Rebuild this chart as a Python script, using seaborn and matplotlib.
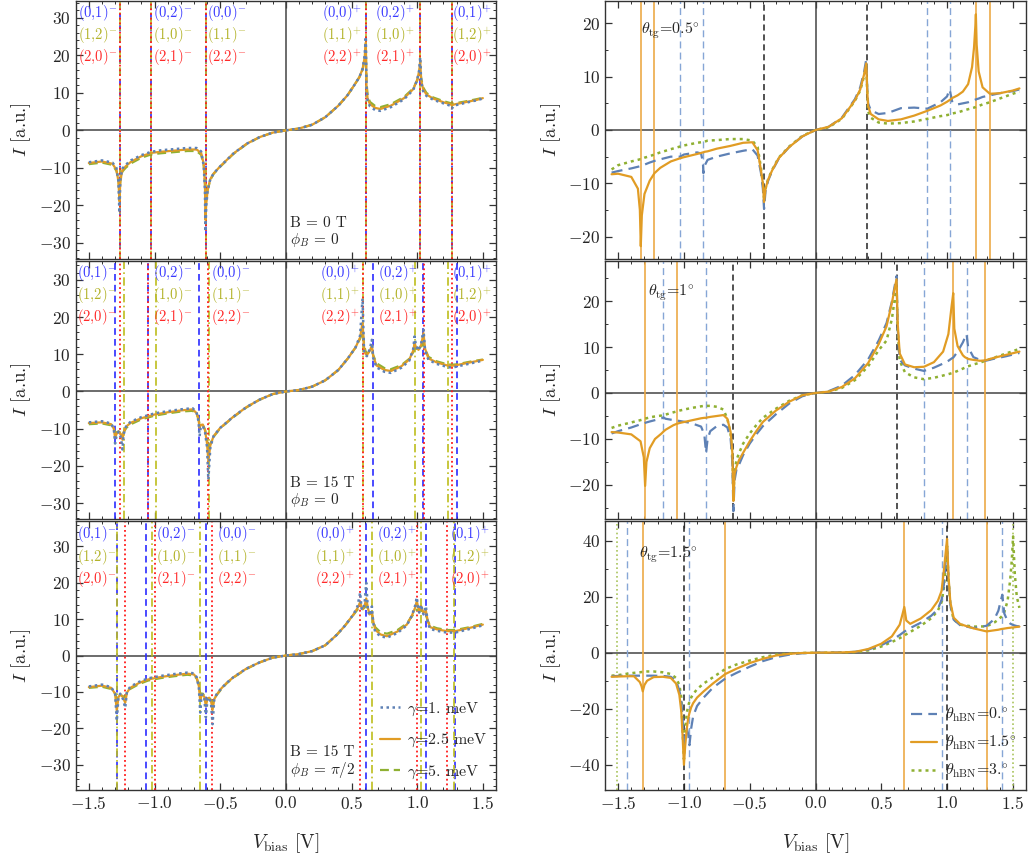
import numpy as np
import pandas as pd
import seaborn as sns
import matplotlib
matplotlib.use("Agg")
import matplotlib.pyplot as plt
import matplotlib.transforms as mtransforms
from matplotlib.ticker import MultipleLocator, FixedLocator, FuncFormatter
from matplotlib.lines import Line2D

sns.set_style("ticks")
plt.rcParams['font.family'] = 'serif'
plt.rcParams['font.serif'] = ['cmr10']
plt.rcParams['mathtext.fontset'] = 'cm'
plt.rcParams['axes.formatter.use_mathtext'] = True
plt.rcParams['axes.unicode_minus'] = True

# ---------------- data: left column (gamma series) ----------------
LT_V = [-1.5, -1.4, -1.32, -1.29, -1.275, -1.267, -1.26, -1.245, -1.22, -1.18,
        -1.1, -1.025, -0.95, -0.85, -0.75, -0.68, -0.645, -0.625, -0.616, -0.612,
        -0.606, -0.595, -0.575, -0.55, -0.5, -0.45, -0.4, -0.3, -0.2, -0.1,
        0.0, 0.1, 0.2, 0.3, 0.4, 0.47, 0.52, 0.56, 0.585, 0.6,
        0.609, 0.614, 0.622, 0.64, 0.68, 0.72, 0.8, 0.9, 0.97, 1.0,
        1.015, 1.023, 1.03, 1.045, 1.07, 1.12, 1.2, 1.25, 1.264, 1.28,
        1.35, 1.45, 1.5]
LT_g1 = [-8.5, -8.0, -8.6, -10.0, -13.5, -22.0, -13.0, -10.2, -9.2, -8.0,
         -6.6, -5.7, -5.3, -5.0, -4.7, -4.7, -5.6, -9.5, -16.0, -27.0,
         -20.0, -16.0, -13.0, -11.5, -9.6, -7.9, -6.2, -3.6, -1.8, -0.6,
         0.0, 0.5, 1.5, 3.5, 6.6, 9.4, 12.0, 14.2, 16.5, 20.0,
         25.0, 11.5, 8.0, 6.4, 5.4, 5.2, 6.2, 8.3, 10.8, 13.5,
         16.0, 19.5, 13.0, 10.5, 9.2, 8.2, 7.2, 6.6, 5.8, 6.6,
         7.2, 8.0, 8.5]
LT_g25 = [-8.7, -8.3, -8.9, -10.5, -13.5, -18.9, -13.5, -10.6, -9.6, -8.4,
          -6.9, -6.0, -5.7, -5.4, -5.1, -5.1, -6.0, -9.0, -14.5, -23.9,
          -19.5, -15.8, -13.0, -11.5, -9.6, -7.9, -6.2, -3.6, -1.8, -0.6,
          0.0, 0.5, 1.5, 3.5, 6.6, 9.4, 12.0, 14.2, 16.5, 19.5,
          23.4, 12.0, 8.6, 7.0, 6.0, 5.7, 6.6, 8.6, 11.0, 13.5,
          15.8, 18.5, 13.5, 11.0, 9.6, 8.5, 7.5, 7.0, 6.7, 6.9,
          7.4, 8.1, 8.6]
LT_g5 = [-9.0, -8.6, -9.2, -10.8, -13.0, -16.0, -13.5, -11.0, -10.0, -8.8,
         -7.3, -6.4, -6.1, -5.8, -5.5, -5.5, -6.5, -9.5, -14.0, -20.0,
         -18.5, -15.8, -13.2, -11.6, -9.7, -8.0, -6.3, -3.7, -1.8, -0.6,
         0.0, 0.5, 1.5, 3.5, 6.6, 9.4, 12.0, 14.2, 16.2, 19.0,
         21.0, 13.0, 9.5, 7.6, 6.5, 6.2, 7.0, 8.9, 11.2, 13.3,
         15.0, 17.0, 14.0, 11.5, 10.0, 8.8, 7.8, 7.3, 7.1, 7.2,
         7.6, 8.3, 8.7]

LM_V = [-1.5, -1.4, -1.33, -1.31, -1.30, -1.29, -1.274, -1.255, -1.244, -1.235,
        -1.215, -1.18, -1.1, -1.0, -0.9, -0.8, -0.71, -0.68, -0.665, -0.657,
        -0.648, -0.632, -0.615, -0.60, -0.59, -0.575, -0.55, -0.5, -0.4, -0.3,
        -0.2, -0.1, 0.0, 0.1, 0.2, 0.3, 0.4, 0.47, 0.53, 0.565,
        0.584, 0.595, 0.605, 0.617, 0.64, 0.655, 0.665, 0.69, 0.75, 0.8,
        0.88, 0.94, 0.97, 0.98, 0.99, 1.01, 1.03, 1.048, 1.06, 1.086,
        1.15, 1.23, 1.264, 1.3, 1.4, 1.5]
LM_g1 = [-8.3, -8.0, -8.6, -10.0, -14.0, -12.0, -10.8, -12.5, -15.6, -11.5,
         -9.2, -8.1, -6.9, -5.9, -5.3, -4.8, -4.5, -5.6, -8.0, -12.0,
         -9.8, -9.2, -11.0, -15.0, -23.7, -15.0, -12.0, -9.8, -6.8, -4.2,
         -2.2, -0.7, 0.0, 0.4, 1.3, 3.0, 5.8, 8.8, 11.8, 15.0,
         25.0, 11.0, 9.8, 9.5, 11.5, 13.9, 9.0, 6.5, 5.3, 5.0,
         6.4, 8.3, 11.5, 14.8, 12.5, 11.0, 12.8, 16.6, 11.0, 8.5,
         7.4, 6.6, 6.4, 6.7, 7.5, 8.3]
LM_g25 = [-8.5, -8.3, -8.8, -10.0, -12.5, -11.5, -10.7, -11.5, -13.0, -11.0,
          -9.4, -8.4, -7.2, -6.2, -5.6, -5.1, -4.8, -5.8, -7.5, -9.8,
          -9.0, -8.9, -10.5, -14.0, -18.8, -14.5, -12.0, -9.8, -6.8, -4.2,
          -2.2, -0.7, 0.0, 0.4, 1.3, 3.0, 5.8, 8.8, 11.8, 14.5,
          18.5, 12.0, 10.2, 9.8, 11.0, 12.4, 9.5, 7.0, 5.8, 5.5,
          6.8, 8.6, 11.0, 13.0, 12.0, 11.2, 12.5, 15.7, 11.5, 8.9,
          7.8, 7.0, 6.9, 7.1, 7.8, 8.5]
LM_g5 = [-8.8, -8.6, -9.1, -10.2, -11.0, -11.0, -10.8, -11.2, -11.8, -11.0,
         -9.8, -8.8, -7.5, -6.5, -5.9, -5.4, -5.2, -6.0, -7.3, -8.8,
         -8.9, -9.0, -10.3, -13.0, -16.0, -14.0, -12.2, -9.9, -6.9, -4.3,
         -2.2, -0.7, 0.0, 0.4, 1.3, 3.0, 5.8, 8.8, 11.8, 14.2,
         16.0, 13.0, 11.0, 10.2, 10.8, 11.2, 9.8, 7.6, 6.3, 6.0,
         7.1, 8.8, 10.6, 11.5, 11.6, 11.3, 12.0, 13.0, 11.5, 9.3,
         8.1, 7.3, 7.2, 7.3, 8.0, 8.6]

LB_V = [-1.5, -1.4, -1.33, -1.3, -1.287, -1.275, -1.261, -1.24, -1.223, -1.21,
        -1.185, -1.12, -1.05, -0.95, -0.85, -0.75, -0.7, -0.678, -0.662, -0.652,
        -0.642, -0.632, -0.62, -0.609, -0.597, -0.584, -0.57, -0.558, -0.545, -0.525,
        -0.49, -0.449, -0.4, -0.3, -0.2, -0.1, 0.0, 0.1, 0.2, 0.3,
        0.388, 0.45, 0.515, 0.545, 0.566, 0.576, 0.586, 0.6, 0.612, 0.625,
        0.637, 0.647, 0.655, 0.665, 0.68, 0.72, 0.77, 0.85, 0.921, 0.96,
        0.985, 0.997, 1.006, 1.015, 1.023, 1.03, 1.04, 1.048, 1.057, 1.066,
        1.08, 1.099, 1.15, 1.226, 1.29, 1.4, 1.5]
LB_g1 = [-8.5, -8.0, -8.7, -10.5, -18.0, -11.5, -10.5, -12.0, -14.4, -10.0,
         -8.6, -7.3, -6.3, -5.6, -5.1, -4.7, -4.9, -6.0, -9.0, -15.7,
         -11.0, -10.7, -12.0, -17.0, -12.0, -11.5, -13.0, -18.9, -12.0, -10.5,
         -9.0, -7.5, -6.0, -3.6, -1.9, -0.6, 0.0, 0.4, 1.2, 2.8,
         5.7, 8.2, 11.3, 13.5, 17.3, 13.0, 12.5, 14.5, 20.0, 12.5,
         11.0, 12.0, 13.5, 9.0, 6.5, 5.3, 4.9, 6.2, 8.3, 11.0,
         13.8, 16.0, 13.5, 11.8, 13.0, 14.0, 12.3, 11.3, 12.0, 13.6,
         9.0, 7.3, 6.8, 6.3, 6.3, 7.3, 8.3]
LB_g25 = [-8.7, -8.3, -8.9, -10.5, -15.3, -11.5, -10.7, -11.5, -13.0, -10.2,
          -8.9, -7.6, -6.6, -5.9, -5.4, -5.0, -5.2, -6.2, -8.5, -12.5,
          -11.0, -10.7, -11.5, -13.9, -12.0, -11.6, -12.5, -15.0, -12.0, -10.7,
          -9.0, -7.5, -6.0, -3.6, -1.9, -0.6, 0.0, 0.4, 1.2, 2.8,
          5.7, 8.2, 11.3, 13.0, 14.7, 13.4, 12.7, 13.8, 15.7, 13.0,
          11.3, 11.5, 12.0, 9.5, 7.1, 5.8, 5.3, 6.6, 8.5, 11.0,
          13.2, 15.0, 13.5, 12.2, 12.8, 13.6, 12.5, 11.8, 12.0, 12.4,
          9.5, 7.8, 7.2, 6.7, 6.7, 7.6, 8.5]
LB_g5 = [-8.9, -8.6, -9.2, -10.5, -12.0, -11.0, -10.8, -11.2, -11.5, -10.3,
         -9.2, -7.9, -6.9, -6.2, -5.7, -5.3, -5.5, -6.4, -8.0, -10.5,
         -10.5, -10.5, -11.2, -12.0, -11.8, -11.7, -12.2, -12.8, -11.8, -10.8,
         -9.2, -7.6, -6.1, -3.7, -1.9, -0.6, 0.0, 0.4, 1.2, 2.8,
         5.7, 8.2, 11.2, 12.6, 13.3, 13.0, 12.8, 13.2, 13.8, 12.8,
         11.8, 11.6, 11.4, 9.8, 7.8, 6.4, 6.0, 7.0, 8.8, 10.8,
         12.0, 12.6, 12.5, 12.3, 12.4, 12.5, 12.2, 11.8, 11.6, 11.2,
         9.6, 8.2, 7.5, 7.0, 7.0, 7.8, 8.7]

# transition voltages (left column)
LT_blue = [-1.265, -1.025, -0.61, 0.61, 1.025, 1.265]
LT_olive = [-1.265, -1.025, -0.61, 0.61, 1.025, 1.265]
LT_red = [-1.265, -1.025, -0.61, 0.61, 1.025, 1.265]
LM_blue = [-1.30, -1.048, -0.662, 0.662, 1.048, 1.30]
LM_olive = [-1.233, -0.985, -0.586, 0.586, 0.985, 1.233]
LM_red = [-1.264, -1.053, -0.589, 0.589, 1.053, 1.264]
LB_blue = [-1.285, -1.066, -0.61, 0.61, 1.066, 1.29]
LB_olive = [-1.287, -1.022, -0.653, 0.655, 1.028, 1.284]
LB_red = [-1.224, -0.996, -0.564, 0.566, 0.997, 1.226]

LAB_BLUE = ["(0,1)", "(0,2)", "(0,0)", "(0,0)", "(0,2)", "(0,1)"]
LAB_OLIVE = ["(1,2)", "(1,0)", "(1,1)", "(1,1)", "(1,0)", "(1,2)"]
LAB_RED = ["(2,0)", "(2,1)", "(2,2)", "(2,2)", "(2,1)", "(2,0)"]
LAB_SIGN = ["-", "-", "-", "+", "+", "+"]

# ---------------- data: right column (theta_hBN series) ----------------
RT_V = [-1.55, -1.5, -1.4, -1.35, -1.335, -1.328, -1.32, -1.3, -1.26, -1.224,
        -1.18, -1.1, -1.029, -1.0, -0.9, -0.87, -0.856, -0.852, -0.845, -0.82,
        -0.75, -0.65, -0.55, -0.48, -0.44, -0.415, -0.40, -0.391, -0.38, -0.36,
        -0.33, -0.28, -0.2, -0.1, 0.0, 0.1, 0.2, 0.26, 0.3, 0.34,
        0.37, 0.386, 0.392, 0.40, 0.42, 0.48, 0.55, 0.65, 0.75, 0.85,
        0.95, 1.0, 1.018, 1.025, 1.04, 1.08, 1.12, 1.16, 1.19, 1.205,
        1.215, 1.219, 1.225, 1.24, 1.27, 1.325, 1.4, 1.5, 1.55]
RT_t0 = [-8.0, -7.7, -7.2, -6.9, -6.8, -6.8, -6.7, -6.5, -6.1, -5.8,
         -5.5, -5.0, -5.0, -4.6, -4.2, -4.4, -6.0, -8.1, -6.8, -5.6,
         -5.0, -4.4, -3.9, -3.6, -4.8, -8.0, -11.0, -14.8, -11.5, -9.5,
         -7.7, -5.4, -3.2, -1.2, 0.0, 0.6, 2.3, 4.4, 5.8, 8.0,
         11.0, 13.3, 8.5, 5.0, 3.7, 3.0, 3.2, 4.1, 4.2, 4.0,
         5.2, 6.3, 7.6, 7.0, 5.2, 4.8, 5.0, 5.2, 5.5, 5.6,
         5.7, 5.7, 5.8, 5.9, 6.2, 6.5, 6.9, 7.3, 7.6]
RT_t15 = [-8.3, -8.2, -8.8, -11.0, -15.0, -21.8, -16.0, -12.0, -9.5, -8.1,
          -7.1, -5.9, -5.3, -5.1, -4.5, -4.3, -4.2, -4.2, -4.1, -4.0,
          -3.5, -3.0, -2.4, -2.3, -3.8, -7.5, -10.0, -13.5, -11.0, -9.3,
          -7.6, -5.3, -3.2, -1.2, 0.0, 0.6, 2.2, 4.2, 5.6, 7.6,
          10.5, 12.5, 8.0, 4.5, 3.0, 2.0, 1.7, 2.0, 2.7, 3.6,
          4.6, 5.3, 5.6, 5.7, 6.0, 6.5, 7.2, 8.6, 11.8, 15.5,
          19.5, 21.7, 16.0, 11.0, 8.0, 6.8, 6.9, 7.4, 7.8]
RT_t3 = [-7.4, -6.6, -5.9, -5.6, -5.5, -5.5, -5.4, -5.2, -4.9, -4.6,
         -4.2, -3.6, -3.1, -2.9, -2.4, -2.3, -2.2, -2.2, -2.2, -2.0,
         -1.9, -1.7, -1.7, -2.0, -3.2, -7.0, -10.0, -13.0, -11.0, -9.2,
         -7.5, -5.2, -3.1, -1.1, 0.0, 0.5, 2.1, 4.1, 5.5, 7.4,
         10.2, 12.2, 8.0, 3.5, 2.3, 1.4, 1.2, 1.3, 1.6, 2.1,
         2.6, 2.8, 2.9, 3.0, 3.1, 3.3, 3.6, 3.9, 4.1, 4.2,
         4.3, 4.3, 4.4, 4.5, 4.8, 5.2, 5.9, 6.8, 7.2]

RM_V = [-1.55, -1.5, -1.4, -1.33, -1.305, -1.295, -1.285, -1.26, -1.22, -1.17,
        -1.156, -1.14, -1.08, -1.054, -1.03, -0.95, -0.87, -0.845, -0.832, -0.82,
        -0.8, -0.75, -0.7, -0.67, -0.645, -0.632, -0.624, -0.615, -0.6, -0.58,
        -0.55, -0.5, -0.45, -0.4, -0.3, -0.2, -0.1, 0.0, 0.1, 0.2,
        0.3, 0.4, 0.48, 0.54, 0.58, 0.6, 0.616, 0.625, 0.64, 0.68,
        0.75, 0.824, 0.9, 0.97, 1.01, 1.035, 1.047, 1.055, 1.08, 1.12,
        1.135, 1.148, 1.16, 1.2, 1.25, 1.292, 1.35, 1.45, 1.55]
RM_t0 = [-8.8, -8.3, -7.5, -6.8, -6.6, -6.5, -6.4, -6.2, -5.9, -5.5,
         -5.3, -5.6, -5.9, -6.0, -6.1, -6.5, -7.3, -9.0, -13.0, -10.0,
         -8.3, -7.2, -6.9, -7.5, -10.0, -15.0, -25.7, -19.0, -16.5, -15.5,
         -13.5, -11.0, -9.0, -7.2, -4.6, -2.3, -0.7, 0.0, 0.4, 1.6,
         3.9, 7.3, 11.4, 15.2, 19.8, 23.0, 25.4, 14.0, 7.2, 6.0,
         5.3, 4.8, 5.5, 6.4, 7.0, 7.5, 7.7, 8.0, 9.0, 11.0,
         12.0, 12.8, 10.0, 7.8, 7.2, 7.0, 7.4, 8.0, 8.7]
RM_t15 = [-8.5, -8.6, -9.0, -10.5, -14.0, -20.2, -15.0, -12.0, -10.0, -8.8,
          -8.4, -8.0, -7.0, -6.7, -6.5, -6.0, -5.5, -5.4, -5.4, -5.3,
          -5.2, -5.0, -4.8, -5.6, -8.5, -13.0, -23.5, -17.5, -16.0, -14.5,
          -13.0, -10.5, -8.3, -6.3, -3.8, -1.9, -0.5, 0.0, 0.3, 1.3,
          3.2, 6.5, 10.6, 14.5, 19.5, 22.5, 24.7, 15.0, 8.6, 6.2,
          5.6, 5.7, 6.7, 9.0, 12.8, 19.0, 21.7, 14.0, 10.2, 8.2,
          7.8, 7.6, 7.4, 7.2, 7.0, 7.1, 7.6, 8.3, 9.0]
RM_t3 = [-7.6, -7.1, -6.4, -5.9, -5.7, -5.6, -5.5, -5.3, -5.1, -4.9,
         -4.8, -4.7, -4.2, -4.0, -3.8, -3.3, -2.9, -2.8, -2.8, -2.8,
         -2.8, -3.0, -3.6, -5.6, -9.0, -13.0, -22.0, -17.0, -14.5, -13.0,
         -11.0, -8.8, -7.0, -5.4, -3.4, -1.7, -0.5, 0.0, 0.3, 1.1,
         2.8, 5.8, 9.3, 11.4, 16.0, 20.0, 22.9, 13.0, 7.0, 4.5,
         3.4, 3.0, 3.3, 3.8, 4.1, 4.3, 4.4, 4.5, 4.8, 5.3,
         5.5, 5.7, 5.8, 6.2, 6.6, 7.0, 7.6, 8.6, 9.6]

RB_V = [-1.55, -1.5, -1.429, -1.38, -1.335, -1.322, -1.313, -1.3, -1.28, -1.23,
        -1.16, -1.1, -1.06, -1.035, -1.02, -1.01, -1.0, -0.99, -0.978, -0.968,
        -0.958, -0.945, -0.93, -0.9, -0.85, -0.78, -0.685, -0.6, -0.5, -0.4,
        -0.3, -0.2, -0.1, 0.0, 0.1, 0.2, 0.3, 0.4, 0.5, 0.58,
        0.64, 0.66, 0.675, 0.69, 0.72, 0.8, 0.88, 0.93, 0.958, 0.975,
        0.99, 1.0, 1.01, 1.025, 1.05, 1.1, 1.2, 1.3, 1.36, 1.39,
        1.408, 1.42, 1.435, 1.46, 1.48, 1.492, 1.502, 1.515, 1.53, 1.55]
RB_t0 = [-8.4, -8.3, -8.2, -8.2, -8.2, -8.2, -8.2, -8.2, -8.2, -8.2,
         -8.3, -8.6, -10.0, -13.5, -17.0, -24.0, -34.6, -30.0, -27.0, -29.0,
         -33.0, -27.0, -22.7, -19.0, -16.0, -12.5, -9.2, -7.2, -5.0, -3.0,
         -1.6, -0.7, -0.2, 0.0, 0.05, 0.1, 0.3, 1.1, 2.7, 4.5,
         6.3, 7.0, 7.5, 8.0, 8.8, 10.7, 13.2, 15.5, 18.9, 24.0,
         33.0, 39.0, 27.0, 17.0, 11.8, 9.8, 8.8, 9.6, 12.0, 15.0,
         18.5, 20.7, 14.0, 11.3, 10.4, 10.1, 9.9, 9.7, 9.5, 9.4]
RB_t15 = [-8.6, -8.5, -8.4, -8.4, -10.5, -12.0, -13.8, -11.5, -10.0, -8.7,
          -8.6, -9.0, -11.0, -15.0, -21.0, -30.0, -40.0, -33.0, -27.0, -23.5,
          -21.5, -19.5, -18.0, -16.0, -13.8, -11.0, -7.6, -5.7, -3.7, -2.2,
          -1.0, -0.4, -0.1, 0.0, 0.05, 0.1, 0.3, 1.3, 3.2, 5.8,
          10.0, 13.5, 16.3, 11.5, 10.3, 12.2, 15.2, 18.5, 22.0, 29.0,
          36.0, 40.6, 28.0, 18.0, 12.5, 10.2, 8.7, 7.6, 8.0, 8.2,
          8.4, 8.5, 8.6, 8.8, 8.9, 9.0, 9.0, 9.1, 9.2, 9.3]
RB_t3 = [-8.2, -8.0, -7.5, -7.2, -7.0, -6.9, -6.9, -6.8, -6.7, -6.7,
         -7.0, -7.6, -9.0, -11.5, -16.0, -28.0, -38.0, -27.0, -21.5, -19.0,
         -17.5, -16.0, -14.8, -13.0, -11.0, -8.8, -5.8, -4.2, -2.8, -1.6,
         -0.7, -0.3, -0.1, 0.0, 0.05, 0.1, 0.2, 0.8, 2.2, 3.8,
         5.2, 5.7, 6.1, 6.6, 7.4, 9.6, 12.3, 15.0, 18.0, 23.0,
         31.0, 38.0, 27.0, 17.0, 11.8, 10.0, 9.3, 9.4, 10.8, 11.8,
         12.6, 13.2, 14.5, 18.5, 26.0, 33.0, 41.5, 28.0, 20.0, 16.0]

# resonance markers (right column)
RT_black = [-0.391, 0.388]
RT_blue = [-1.029, -0.852, 0.844, 1.022]
RT_orange = [-1.328, -1.224, 1.219, 1.325]
RT_green = []
RM_black = [-0.624, 0.616]
RM_blue = [-1.156, -0.832, 0.824, 1.148]
RM_orange = [-1.295, -1.054, 1.047, 1.292]
RM_green = []
RB_black = [-1.0, 1.0]
RB_blue = [-1.429, -0.958, 0.958, 1.42]
RB_orange = [-1.313, -0.685, 0.675, 1.30]
RB_green = [-1.506, 1.502]

# ---------------- styling ----------------
C_BLUE = '#5e81b5'
C_ORANGE = '#e19c24'
C_GREEN = '#8fb032'
VL_BLUE = '#2b2bff'
VL_OLIVE = '#bdbd1c'
VL_RED = '#ff1a1a'
TXT_BLUE = '#3a3aff'
TXT_OLIVE = '#b3b32a'
TXT_RED = '#ff2a2a'
FRAME = '#333333'

W, H = 1031, 860
fig = plt.figure(figsize=(W / 100, H / 100), dpi=100)


def add_ax(x0px, x1px, y0px, y1px):
    return fig.add_axes([x0px / W, 1 - y1px / H, (x1px - x0px) / W, (y1px - y0px) / H])


rows = [(1, 259), (261, 519), (521, 790)]
left_axes = [add_ax(75.7, 496, r[0], r[1]) for r in rows]
right_axes = [add_ax(605, 1026, r[0], r[1]) for r in rows]

tickfmt_x = FuncFormatter(lambda v, p: r"$%.1f$" % v)
tickfmt_y = FuncFormatter(lambda v, p: r"$%d$" % int(round(v)))


def style_axes(ax, ylim, yticks, yminor, show_x):
    ax.set_xlim(-1.6, 1.6)
    ax.set_ylim(*ylim)
    ax.xaxis.set_major_locator(FixedLocator([-1.5, -1.0, -0.5, 0.0, 0.5, 1.0, 1.5]))
    ax.xaxis.set_minor_locator(MultipleLocator(0.1))
    ax.yaxis.set_major_locator(FixedLocator(yticks))
    ax.yaxis.set_minor_locator(MultipleLocator(yminor))
    ax.xaxis.set_major_formatter(tickfmt_x)
    ax.yaxis.set_major_formatter(tickfmt_y)
    ax.tick_params(which='both', direction='in', top=True, right=True,
                   color=FRAME, labelsize=12.5)
    ax.tick_params(which='major', length=5, width=0.9)
    ax.tick_params(which='minor', length=2.5, width=0.7)
    if not show_x:
        ax.tick_params(labelbottom=False)
    for s in ax.spines.values():
        s.set_color(FRAME)
        s.set_linewidth(1.0)
        s.set_visible(True)
    ax.axhline(0, color='#444444', lw=1.1, zorder=1)
    ax.axvline(0, color='#444444', lw=1.1, zorder=1)
    ax.set_ylabel(r"$I$ [a.u.]", fontsize=13.5, labelpad=4)
    ax.set_xlabel("")


def draw_curve(ax, V, I, color, ls, lw, label=None):
    df = pd.DataFrame({"V": V, "I": I})
    sns.lineplot(data=df, x="V", y="I", ax=ax, color=color, linestyle=ls, lw=lw,
                 estimator=None, sort=False, label=label, legend=False, zorder=3)


LS_DOT_L = (0, (1.0, 1.4))
LS_DASH_L = (0, (4.0, 2.2))
LS_DASH_R = (0, (5.0, 2.8))
LS_DOT_R = (0, (1.2, 1.6))

left_data = [
    (LT_V, LT_g1, LT_g25, LT_g5, LT_blue, LT_olive, LT_red, (-34.3, 34.5),
     [-1.43, -0.86, -0.45, 0.43, 0.83, 1.42], ("B = 0 T", r"$\phi_B$ = 0")),
    (LM_V, LM_g1, LM_g25, LM_g5, LM_blue, LM_olive, LM_red, (-34.3, 35.1),
     [-1.44, -0.86, -0.42, 0.41, 0.85, 1.42], ("B = 15 T", r"$\phi_B$ = 0")),
    (LB_V, LB_g1, LB_g25, LB_g5, LB_blue, LB_olive, LB_red, (-37.0, 37.0),
     [-1.44, -0.84, -0.37, 0.375, 0.845, 1.40], ("B = 15 T", r"$\phi_B$ = $\pi/2$")),
]

for i, (ax, d) in enumerate(zip(left_axes, left_data)):
    V, g1, g25, g5, vb, vo, vr, ylim, labx, info = d
    style_axes(ax, ylim, [-30, -20, -10, 0, 10, 20, 30], 2, i == 2)
    for x in vb:
        ax.axvline(x, color=VL_BLUE, ls=(0, (4, 2.5)), lw=1.2, zorder=2)
    for x in vo:
        ax.axvline(x, color=VL_OLIVE, ls=(0, (5, 2, 1, 2)), lw=1.2, zorder=2)
    for x in vr:
        ax.axvline(x, color=VL_RED, ls=(0, (1, 1.6)), lw=1.3, zorder=2)
    draw_curve(ax, V, g5, C_GREEN, LS_DASH_L, 1.6, r"$\gamma$=5. meV")
    draw_curve(ax, V, g25, C_ORANGE, '-', 1.6, r"$\gamma$=2.5 meV")
    draw_curve(ax, V, g1, C_BLUE, LS_DOT_L, 1.8, r"$\gamma$=1. meV")
    tr = mtransforms.blended_transform_factory(ax.transData, ax.transAxes)
    for k in range(6):
        sgn = r"$^{-}$" if LAB_SIGN[k] == "-" else r"$^{+}$"
        ax.text(labx[k], 0.953, LAB_BLUE[k] + sgn, color=TXT_BLUE, fontsize=10.5,
                ha='center', va='center', transform=tr)
        ax.text(labx[k], 0.868, LAB_OLIVE[k] + sgn, color=TXT_OLIVE, fontsize=10.5,
                ha='center', va='center', transform=tr)
        ax.text(labx[k], 0.783, LAB_RED[k] + sgn, color=TXT_RED, fontsize=10.5,
                ha='center', va='center', transform=tr)
    ax.text(0.03, 0.14, info[0], fontsize=11, ha='left', va='center', transform=tr)
    ax.text(0.03, 0.075, info[1], fontsize=11, ha='left', va='center', transform=tr)

# legend on bottom-left panel
hl = [Line2D([], [], color=C_BLUE, ls=LS_DOT_L, lw=1.8),
      Line2D([], [], color=C_ORANGE, ls='-', lw=1.6),
      Line2D([], [], color=C_GREEN, ls=LS_DASH_L, lw=1.6)]
left_axes[2].legend(hl, [r"$\gamma$=1. meV", r"$\gamma$=2.5 meV", r"$\gamma$=5. meV"],
                    loc='lower right', frameon=False, fontsize=11.5, handlelength=1.25,
                    handletextpad=0.45, labelspacing=0.9, borderaxespad=0.15)
left_axes[2].set_xlabel(r"$V_{\rm bias}$ [V]", fontsize=14, labelpad=14)

right_data = [
    (RT_V, RT_t0, RT_t15, RT_t3, RT_black, RT_blue, RT_orange, RT_green, (-24.2, 24.2),
     [-20, -10, 0, 10, 20], 5, r"$\theta_{\rm tg}$=0.5$^{\circ}$", (-1.33, 0.885)),
    (RM_V, RM_t0, RM_t15, RM_t3, RM_black, RM_blue, RM_orange, RM_green, (-27.4, 28.7),
     [-20, -10, 0, 10, 20], 5, r"$\theta_{\rm tg}$=1$^{\circ}$", (-1.27, 0.875)),
    (RB_V, RB_t0, RB_t15, RB_t3, RB_black, RB_blue, RB_orange, RB_green, (-49.0, 47.0),
     [-40, -20, 0, 20, 40], 10, r"$\theta_{\rm tg}$=1.5$^{\circ}$", (-1.34, 0.875)),
]

for i, (ax, d) in enumerate(zip(right_axes, right_data)):
    V, t0, t15, t3, vk, vb, vo, vg, ylim, yt, ymin, title, tpos = d
    style_axes(ax, ylim, yt, ymin, i == 2)
    for x in vk:
        ax.axvline(x, color='#222222', ls=(0, (4, 2.5)), lw=1.1, zorder=2)
    for x in vb:
        ax.axvline(x, color='#86a6d6', ls=(0, (5, 3)), lw=1.0, zorder=2)
    for x in vo:
        ax.axvline(x, color='#ecaa48', ls='-', lw=1.2, zorder=2)
    for x in vg:
        ax.axvline(x, color='#a9c45c', ls=(0, (1, 1.6)), lw=1.2, zorder=2)
    draw_curve(ax, V, t3, C_GREEN, LS_DOT_R, 1.8)
    draw_curve(ax, V, t0, C_BLUE, LS_DASH_R, 1.6)
    draw_curve(ax, V, t15, C_ORANGE, '-', 1.6)
    tr = mtransforms.blended_transform_factory(ax.transData, ax.transAxes)
    ax.text(tpos[0], tpos[1], title, fontsize=11.5, ha='left', va='center', transform=tr)

hr = [Line2D([], [], color=C_BLUE, ls=LS_DASH_R, lw=1.6),
      Line2D([], [], color=C_ORANGE, ls='-', lw=1.6),
      Line2D([], [], color=C_GREEN, ls=LS_DOT_R, lw=1.8)]
right_axes[2].legend(hr, [r"$\theta_{\rm hBN}$=0.$^{\circ}$", r"$\theta_{\rm hBN}$=1.5$^{\circ}$",
                          r"$\theta_{\rm hBN}$=3.$^{\circ}$"],
                     loc='lower right', frameon=False, fontsize=11.5, handlelength=1.6,
                     handletextpad=0.5, labelspacing=0.6, borderaxespad=0.2)
right_axes[2].set_xlabel(r"$V_{\rm bias}$ [V]", fontsize=14, labelpad=14)

fig.savefig("out.png", dpi=100)
